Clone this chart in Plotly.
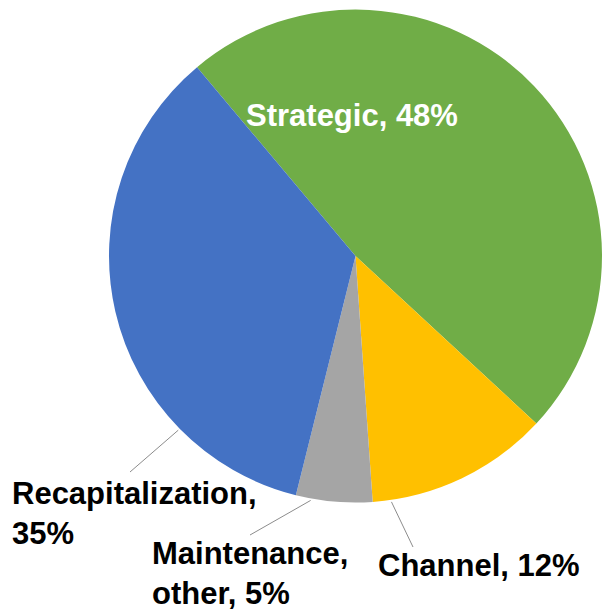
import math
import plotly.graph_objects as go

# Share of spending by category
categories = ["Strategic", "Channel", "Maintenance, other", "Recapitalization"]
shares = [48, 12, 5, 35]

# How each category name is broken over lines in its label
label_names = ["Strategic", "Channel", "Maintenance,<br>other", "Recapitalization"]
label_seps = [", ", ", ", ", ", ",<br>"]

colors = ["#70AD47", "#FFC000", "#A5A5A5", "#4472C4"]
text_colors = ["#FFFFFF", "#000000", "#000000", "#000000"]

W, H = 602, 611
dom_x = [109 / W, 1.0]
dom_y = [1 - 504 / H, 1 - 8 / H]
rotation = -40

# Label placement (pixels from top-left): x, y of text middle, horizontal anchor
label_layout = [
    (352, 116, "center"),
    (376, 565, "left"),
    (150, 573, "left"),
    (10, 513, "left"),
]
# Leader lines: where on the slice rim they start (fraction across the slice)
# and where they end next to the label; None means no leader line
leader_frac = [None, 0.9, 0.8, 0.25]
leader_end = [None, (413, 547), (250, 535), (130, 472)]

# Pie geometry in pixels (plotly centres the circle in its domain box)
box_w = (dom_x[1] - dom_x[0]) * W
box_h = (dom_y[1] - dom_y[0]) * H
radius = min(box_w, box_h) / 2
cx = (dom_x[0] + dom_x[1]) / 2 * W
cy = (1 - (dom_y[0] + dom_y[1]) / 2) * H

total = sum(shares)
starts = []
acc = rotation
for v in shares:
    starts.append(acc)
    acc += v / total * 360


def rim_point(i, frac, extra=0.0):
    ang = math.radians(starts[i] + frac * shares[i] / total * 360)
    r = radius + extra
    return cx + r * math.sin(ang), cy - r * math.cos(ang)


fig = go.Figure(
    go.Pie(
        labels=categories,
        values=shares,
        sort=False,
        direction="clockwise",
        rotation=rotation,
        marker=dict(colors=colors, line=dict(width=0)),
        textinfo="none",
        domain=dict(x=dom_x, y=dom_y),
        showlegend=False,
    )
)

font_family = "Liberation Sans, Arial, sans-serif"
annotations = []
shapes = []
for i, (name, sep, v) in enumerate(zip(label_names, label_seps, shares)):
    px, py, anchor = label_layout[i]
    annotations.append(
        dict(
            text=f"<b>{name}{sep}{v}%</b>",
            x=px / W,
            y=1 - py / H,
            xref="paper",
            yref="paper",
            xanchor=anchor,
            yanchor="middle",
            align="left",
            showarrow=False,
            font=dict(family=font_family, size=31, color=text_colors[i]),
        )
    )
    if leader_frac[i] is not None:
        sx, sy = rim_point(i, leader_frac[i], extra=2)
        ex, ey = leader_end[i]
        shapes.append(
            dict(
                type="line",
                xref="paper",
                yref="paper",
                x0=sx / W,
                y0=1 - sy / H,
                x1=ex / W,
                y1=1 - ey / H,
                line=dict(color="#8C8C8C", width=1),
            )
        )

fig.update_layout(
    width=W,
    height=H,
    margin=dict(l=0, r=0, t=0, b=0),
    paper_bgcolor="white",
    plot_bgcolor="white",
    annotations=annotations,
    shapes=shapes,
)

fig.write_html("out.html")
